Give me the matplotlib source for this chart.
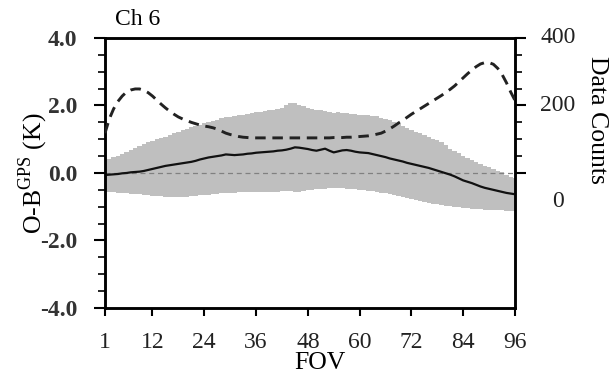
import matplotlib
matplotlib.use("Agg")
import matplotlib.pyplot as plt
import matplotlib.transforms as mtransforms
import numpy as np

plt.rcParams['font.family'] = ['Liberation Serif', 'DejaVu Serif']
plt.rcParams['mathtext.fontset'] = 'custom'
plt.rcParams['mathtext.rm'] = 'Liberation Serif'

# field of view index
fov = np.arange(1, 97)

# mean O-B (K)
mean_omb = [
    -0.06, -0.05, -0.04, -0.03, -0.01, 0.00, 0.02, 0.03, 0.04, 0.06, 0.09, 0.12,
    0.15, 0.18, 0.21, 0.23, 0.25, 0.27, 0.29, 0.31, 0.33, 0.36, 0.40, 0.43,
    0.46, 0.48, 0.50, 0.52, 0.55, 0.54, 0.53, 0.54, 0.55, 0.57, 0.58, 0.60,
    0.61, 0.62, 0.63, 0.64, 0.66, 0.67, 0.69, 0.72, 0.76, 0.75, 0.73, 0.71,
    0.68, 0.66, 0.69, 0.72, 0.66, 0.61, 0.64, 0.67, 0.68, 0.66, 0.63, 0.61,
    0.60, 0.59, 0.56, 0.53, 0.50, 0.47, 0.43, 0.40, 0.37, 0.34, 0.30, 0.27,
    0.24, 0.21, 0.18, 0.15, 0.11, 0.07, 0.03, -0.01, -0.05, -0.10, -0.16, -0.22,
    -0.26, -0.30, -0.35, -0.40, -0.44, -0.47, -0.50, -0.53, -0.56, -0.59, -0.61, -0.63,
]

# upper / lower edge of the grey spread band (K)
band_upper = [
    0.37, 0.41, 0.46, 0.51, 0.56, 0.62, 0.69, 0.75, 0.80, 0.86, 0.91, 0.96,
    1.00, 1.04, 1.08, 1.12, 1.17, 1.21, 1.26, 1.30, 1.35, 1.39, 1.43, 1.47,
    1.51, 1.55, 1.58, 1.62, 1.65, 1.66, 1.70, 1.72, 1.72, 1.76, 1.78, 1.80,
    1.82, 1.84, 1.86, 1.87, 1.90, 1.93, 2.00, 2.08, 2.06, 2.02, 1.97, 1.94,
    1.90, 1.88, 1.86, 1.84, 1.80, 1.77, 1.80, 1.78, 1.77, 1.76, 1.74, 1.73,
    1.72, 1.71, 1.70, 1.68, 1.64, 1.60, 1.56, 1.50, 1.44, 1.38, 1.32, 1.26,
    1.22, 1.18, 1.12, 1.06, 1.02, 0.98, 0.92, 0.82, 0.72, 0.64, 0.58, 0.50,
    0.44, 0.38, 0.32, 0.26, 0.22, 0.18, 0.12, 0.06, 0.02, -0.05, -0.12, -0.16,
]
band_lower = [
    -0.55, -0.56, -0.57, -0.58, -0.59, -0.60, -0.61, -0.62, -0.63, -0.65, -0.66, -0.67,
    -0.68, -0.69, -0.70, -0.71, -0.71, -0.71, -0.70, -0.70, -0.69, -0.67, -0.66, -0.65,
    -0.64, -0.62, -0.61, -0.60, -0.59, -0.58, -0.58, -0.57, -0.56, -0.56, -0.55, -0.55,
    -0.55, -0.55, -0.55, -0.55, -0.55, -0.54, -0.54, -0.54, -0.55, -0.55, -0.53, -0.51,
    -0.50, -0.48, -0.47, -0.46, -0.45, -0.45, -0.45, -0.45, -0.46, -0.47, -0.48, -0.49,
    -0.50, -0.52, -0.54, -0.56, -0.58, -0.60, -0.63, -0.66, -0.69, -0.72, -0.75, -0.78,
    -0.81, -0.84, -0.87, -0.89, -0.91, -0.93, -0.95, -0.97, -0.99, -1.00, -1.02, -1.03,
    -1.05, -1.06, -1.07, -1.08, -1.09, -1.10, -1.10, -1.11, -1.11, -1.12, -1.12, -1.12,
]

# data counts per FOV (right axis)
counts = [
    118, 160, 190, 212, 228, 240, 246, 249, 249, 245, 238, 228,
    216, 204, 193, 183, 174, 166, 160, 155, 150, 146, 142, 139,
    137, 134, 130, 124, 118, 114, 111, 108, 106, 105, 104, 104,
    104, 104, 104, 104, 104, 104, 104, 104, 104, 104, 104, 104,
    104, 104, 104, 104, 104, 105, 105, 105, 106, 106, 107, 108,
    109, 110, 112, 115, 118, 124, 131, 139, 148, 156, 165, 174,
    182, 190, 198, 206, 214, 222, 230, 239, 248, 258, 270, 282,
    294, 305, 315, 323, 327, 327, 322, 310, 292, 268, 240, 215,
]

xticks = [1, 12, 24, 36, 48, 60, 72, 84, 96]
yticks = [-4.0, -2.0, 0.0, 2.0, 4.0]
count_ticks = [0, 200, 400]

fig = plt.figure(figsize=(6.15, 3.86), dpi=100)
ax = fig.add_axes([0.1707, 0.2021, 0.6667, 0.6995])

lower = np.array(band_lower)
upper = np.array(band_upper)
ax.bar(fov, upper - lower, bottom=lower, width=1.0, color='#bfbfbf', linewidth=0, zorder=1)
ax.axhline(0, color='#808080', lw=0.9, ls=(0, (4, 3)), zorder=2)
ax.plot(fov, mean_omb, color='#111111', lw=1.6, zorder=3)

ax.set_xlim(1, 96)
ax.set_ylim(-4, 4)
ax.set_xticks(xticks)
ax.set_xticklabels([str(t) for t in xticks])
ax.set_yticks(yticks)
ax.set_yticklabels(['%.1f' % t for t in yticks], fontweight='bold')
ax.set_yticks(np.arange(-4, 4.01, 0.5), minor=True)
ax.tick_params(axis='x', direction='out', length=6, width=1.5, pad=11, labelsize=17,
               labelcolor='#222222')
ax.tick_params(axis='y', which='major', direction='out', length=8, width=1.5, pad=12,
               labelsize=17, labelcolor='#333333')
ax.tick_params(axis='y', which='minor', direction='out', length=5, width=1.2)
for s in ax.spines.values():
    s.set_linewidth(1.8)

ax2 = ax.twinx()
ax2.plot(fov, counts, color='#222222', lw=2.1, ls=(0, (3.6, 2.3)), zorder=4)
ax2.set_ylim(-400, 400)
ax2.set_yticks(count_ticks)
ax2.set_yticks([50, 100, 150, 250, 300, 350], minor=True)
ax2.tick_params(axis='y', which='major', direction='out', length=8, width=1.5, labelright=False)
ax2.tick_params(axis='y', which='minor', direction='out', length=5, width=1.2)
for s in ax2.spines.values():
    s.set_linewidth(1.8)

# right tick labels (centred, the 0 label sits a bit lower)
blend = mtransforms.blended_transform_factory(ax2.transAxes, ax2.transData)
for v in count_ticks:
    tr = blend
    if v == 0:
        tr = blend + mtransforms.ScaledTranslation(0, -0.29, fig.dpi_scale_trans)
    ax2.text(1.105, v, str(v), transform=tr, ha='center', va='center', fontsize=17,
             color='#222222')

ax.text(0.024, 1.03, 'Ch 6', transform=ax.transAxes, ha='left', va='bottom', fontsize=17)
ax.text(0.524, -0.205, 'FOV', transform=ax.transAxes, ha='center', va='center', fontsize=18.5)
ax.text(-0.176, 0.5, 'O-B$^{\\mathrm{GPS}}$ (K)', transform=ax.transAxes, rotation=90,
        ha='center', va='center', fontsize=18.5)
ax.text(1.2, 0.696, 'Data Counts', transform=ax.transAxes, rotation=-90,
        ha='center', va='center', fontsize=18.5)

fig.savefig('out.png', dpi=100)
